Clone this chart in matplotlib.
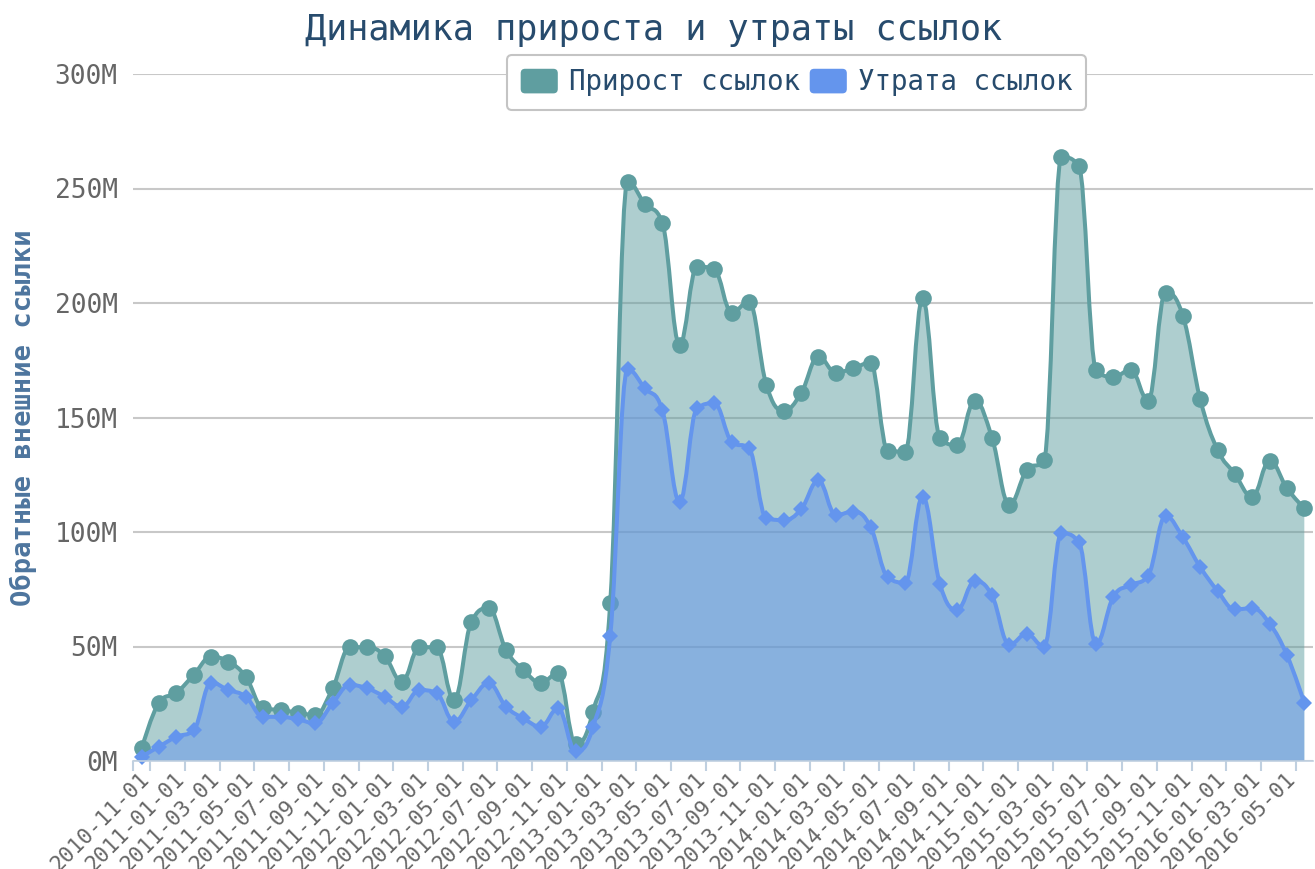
import numpy as np
import matplotlib
matplotlib.use('Agg')
import matplotlib.pyplot as plt
import pandas as pd
from matplotlib.path import Path
from matplotlib.patches import PathPatch, FancyBboxPatch, Patch
from matplotlib.legend_handler import HandlerBase
from matplotlib.transforms import ScaledTranslation

# ---------------- data ----------------
months = pd.date_range('2010-11-01', '2016-06-01', freq='MS').strftime('%Y-%m-%d').tolist()

gain = [5.5, 25.5, 29.8, 37.6, 45.5, 43.4, 36.8, 23.0, 22.3, 21.1, 20.1, 31.7,
        49.7, 49.7, 45.9, 34.6, 49.7, 49.7, 26.6, 60.8, 66.7, 48.5, 39.7, 34.2,
        38.3, 7.5, 21.5, 68.9, 253.0, 243.2, 235.1, 181.7, 215.9, 214.7, 195.8, 200.6,
        164.2, 153.0, 160.6, 176.6, 169.6, 171.5, 173.9, 135.5, 135.1, 202.0, 141.2, 137.9,
        157.4, 141.2, 111.9, 127.0, 131.5, 263.7, 260.0, 170.8, 167.7, 170.8, 157.4, 204.5,
        194.4, 158.0, 135.9, 125.3, 115.3, 131.2, 119.1, 110.3]

loss = [1.9, 6.3, 10.6, 13.5, 34.2, 31.0, 28.1, 19.3, 19.3, 18.2, 16.5, 25.2,
        33.2, 31.7, 28.1, 23.7, 31.0, 29.6, 17.2, 26.6, 33.9, 23.7, 18.6, 15.0,
        23.0, 4.4, 14.7, 54.5, 171.0, 162.7, 153.3, 113.2, 154.0, 156.2, 139.4, 136.5,
        106.0, 105.2, 109.9, 122.5, 107.4, 108.9, 102.3, 80.2, 77.9, 115.4, 77.3, 66.0,
        78.5, 72.3, 50.8, 55.5, 50.0, 99.4, 95.7, 51.2, 71.8, 76.8, 81.0, 106.9,
        97.7, 84.7, 74.3, 66.2, 66.7, 60.0, 46.2, 25.4]

yticks = [0, 50, 100, 150, 200, 250, 300]
ytick_labels = ['0M', '50M', '100M', '150M', '200M', '250M', '300M']
series_names = ['Прирост ссылок', 'Утрата ссылок']
title_text = 'Динамика прироста и утраты ссылок'
ylabel_text = 'Обратные внешние ссылки'

# ---------------- style ----------------
GREEN = '#5f9ea0'
BLUE = '#6495ed'
FONT = 'DejaVu Sans Mono'
plt.rcParams['font.family'] = [FONT, 'DejaVu Sans']

W, H = 1315, 869
fig = plt.figure(figsize=(W / 100, H / 100), dpi=100)
ax = fig.add_axes([133 / W, 1 - 761 / H, (1313 - 133) / W, (761 - 74) / H])


def hc_spline(xs, ys, smoothing=1.5):
    """Highcharts-like spline path (cubic Bezier segments)."""
    n = len(xs)
    denom = smoothing + 1
    right = [None] * n
    verts = [(xs[0], ys[0])]
    codes = [Path.MOVETO]
    for i in range(1, n):
        px, py = xs[i], ys[i]
        lx, ly = xs[i - 1], ys[i - 1]
        lcx, lcy = px, py
        if i < n - 1:
            nx, ny = xs[i + 1], ys[i + 1]
            lcx = (smoothing * px + lx) / denom
            lcy = (smoothing * py + ly) / denom
            rcx = (smoothing * px + nx) / denom
            rcy = (smoothing * py + ny) / denom
            corr = 0.0
            if rcx != lcx:
                corr = (rcy - lcy) * (rcx - px) / (rcx - lcx) + py - rcy
            lcy += corr
            rcy += corr
            if lcy > ly and lcy > py:
                lcy = max(ly, py)
                rcy = 2 * py - lcy
            elif lcy < ly and lcy < py:
                lcy = min(ly, py)
                rcy = 2 * py - lcy
            if rcy > ny and rcy > py:
                rcy = max(ny, py)
                lcy = 2 * py - rcy
            elif rcy < ny and rcy < py:
                rcy = min(ny, py)
                lcy = 2 * py - rcy
            right[i] = (rcx, rcy)
        prev = right[i - 1] if right[i - 1] is not None else (lx, ly)
        verts += [prev, (lcx, lcy), (px, py)]
        codes += [Path.CURVE4] * 3
    return verts, codes


x = np.arange(len(months), dtype=float)

for vals, color, marker, ms, z in [(gain, GREEN, 'o', 12, 2), (loss, BLUE, 'D', 8.4, 3)]:
    verts, codes = hc_spline(x, vals)
    # area
    fverts = verts + [(x[-1], 0), (x[0], 0), (x[0], 0)]
    fcodes = codes + [Path.LINETO, Path.LINETO, Path.CLOSEPOLY]
    ax.add_patch(PathPatch(Path(fverts, fcodes), facecolor=color, alpha=0.5,
                           edgecolor='none', zorder=z))
    # line
    ax.add_patch(PathPatch(Path(verts, codes), facecolor='none', edgecolor=color,
                           lw=2.9, joinstyle='round', capstyle='round', zorder=z + 0.1))
    ax.plot(x, vals, linestyle='none', marker=marker, ms=ms, mew=0, color=color,
            zorder=z + 0.2, clip_on=False)

ax.set_xlim(-0.5, 67.5)
ax.set_ylim(0, 300)

# spines
for s in ['top', 'right', 'left']:
    ax.spines[s].set_visible(False)
ax.spines['bottom'].set_color('#C0D0E0')
ax.spines['bottom'].set_linewidth(1.2)
ax.spines['bottom'].set_zorder(10)

# y axis
ax.set_yticks(yticks, ytick_labels)
ax.tick_params(axis='y', length=0, pad=11, labelsize=18.8, labelcolor='#666666')
ax.yaxis.grid(True, color='#C8C8C8', lw=1.5)
ax.set_axisbelow(True)

# x axis
ax.set_xticks(x[::2], months[::2])
ax.set_xticks([-0.5] + [i + 0.5 for i in range(0, 67, 2)], minor=True)
ax.tick_params(axis='x', which='major', length=0, pad=14, labelsize=15.5, labelcolor='#666666')
ax.tick_params(axis='x', which='minor', length=7, width=1.5, color='#C0D0E0')
offset = ScaledTranslation(9 / 100, 0, fig.dpi_scale_trans)
for lab in ax.get_xticklabels():
    lab.set_rotation(45)
    lab.set_ha('right')
    lab.set_va('baseline')
    lab.set_rotation_mode('anchor')
    lab.set_transform(lab.get_transform() + offset)

# titles
fig.text(654 / W, 1 - 30 / H, title_text, ha='center', va='center',
         fontsize=25.3, color='#274b6d')
fig.text(23 / W, 1 - 418 / H, ylabel_text, ha='center', va='center', rotation=90,
         fontsize=19.5, fontweight='bold', color='#4d759e')


# legend with rounded square symbols
class RoundHandler(HandlerBase):
    def create_artists(self, legend, orig_handle, xdescent, ydescent, width, height,
                       fontsize, trans):
        p = FancyBboxPatch((-xdescent, -ydescent), width, height,
                           boxstyle='round,pad=0,rounding_size=%f' % (height * 0.18),
                           facecolor=orig_handle.get_facecolor(), edgecolor='none',
                           transform=trans)
        return [p]


handles = [Patch(facecolor=GREEN), Patch(facecolor=BLUE)]
leg = fig.legend(handles, series_names, loc='center',
                 bbox_to_anchor=(796.5 / W, 1 - 82.5 / H), bbox_transform=fig.transFigure,
                 ncol=2, fontsize=19.8, handlelength=1.35, handleheight=1.0,
                 handletextpad=0.4, columnspacing=0.36, borderpad=0.5,
                 frameon=True, fancybox=True, edgecolor='#c4c4c4', facecolor='white',
                 framealpha=1, handler_map={Patch: RoundHandler()})
leg.get_frame().set_linewidth(1.5)
for t in leg.get_texts():
    t.set_color('#274b6d')

fig.savefig('out.png', dpi=100)
